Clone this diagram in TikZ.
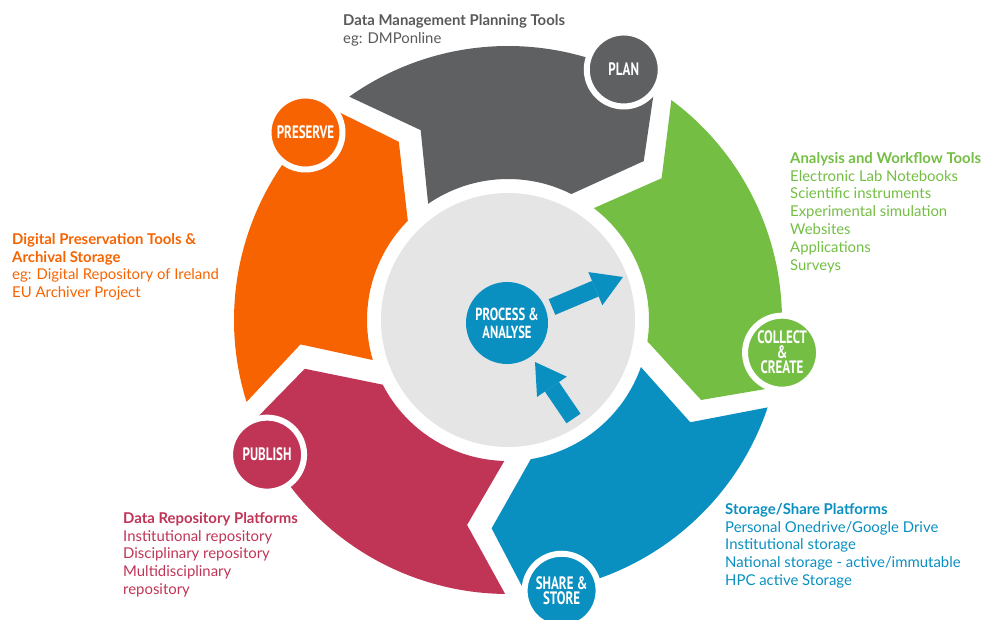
\documentclass[tikz,border=0pt]{standalone}
\usepackage{fontspec}
\setmainfont{Lato}
\newfontfamily\stagefont[FakeStretch=0.72]{PT Sans}
\usetikzlibrary{arrows.meta}
\definecolor{plangray}{HTML}{5F6062}
\definecolor{collectgreen}{HTML}{74BE44}
\definecolor{shareblue}{HTML}{0A8FC1}
\definecolor{publishred}{HTML}{C03456}
\definecolor{preserveorange}{HTML}{F66300}
\definecolor{coregray}{HTML}{E5E5E5}
\definecolor{plantext}{HTML}{58595B}

\begin{document}
\begin{tikzpicture}[x=1pt, y=1pt]
\tikzset{
   stage_circle/.style = {circle, draw = white, line width = 6pt, minimum size = 74pt, inner sep = 0pt,
                          text = white, align = center, font = \stagefont\bfseries\fontsize{18}{15}\selectfont},
   process_circle/.style = {stage_circle, draw = none, fill = shareblue, minimum size = 82pt,
                            font = \stagefont\bfseries\fontsize{17.5}{18}\selectfont},
   info_text/.style = {anchor = north west, align = left, inner sep = 0pt, font = \fontsize{14.9}{17.8}\selectfont},
   big_arrow/.style = {draw = shareblue, line width = 17pt, -{Triangle[length = 30pt, width = 36pt, line width = 0pt]}}
}
\useasboundingbox (0,0) rectangle (984,619);

\begin{scope}[shift = {(508,299)}]
  \node[circle, fill = coregray, minimum size = 254pt, inner sep = 0pt] (core) at (0,0) {};

  \foreach \b/\col in {121.5/plangray, 49.5/collectgreen, -22.5/shareblue, -94.5/publishred, -166.5/preserveorange} {
    \pgfmathsetmacro\e{\b-72}
    \fill[\col] (\b+3.9:274) arc[start angle = \b+3.9, end angle = \e+8.2, radius = 274pt]
          -- (\e:209) -- (\e+13.8:141) arc[start angle = \e+13.8, end angle = \b+3, radius = 141pt]
          -- (\b-6.8:209) -- cycle;
  }

  \node[stage_circle, fill = plangray] (plan) at (65.2:276) {PLAN};
  \node[stage_circle, fill = collectgreen] (collect) at (-6.8:276) {COLLECT\\\&\\CREATE};
  \node[stage_circle, fill = shareblue] (share) at (-78.8:276) {SHARE \&\\STORE};
  \node[stage_circle, fill = publishred] (publish) at (209.2:276) {PUBLISH};
  \node[stage_circle, fill = preserveorange] (preserve) at (137.2:276) {PRESERVE};

  \node[process_circle] (process) at (-1,-3) {PROCESS \&\\ANALYSE};

  \coordinate (out_start) at (44,13);
  \coordinate (out_end) at (115,43);
  \coordinate (in_start) at (65.5,-98.5);
  \coordinate (in_end) at (27,-42);
  \draw[big_arrow] (out_start) -- (out_end);
  \draw[big_arrow] (in_start) -- (in_end);
\end{scope}

\node[info_text, text = plantext] (plan_info) at (343,605)
     {\textbf{Data Management Planning Tools}\\eg: DMPonline};
\node[info_text, text = collectgreen] (collect_info) at (790,467)
     {\textbf{Analysis and Workflow Tools}\\Electronic Lab Notebooks\\Scientific instruments\\Experimental simulation\\Websites\\Applications\\Surveys};
\node[info_text, text = preserveorange] (preserve_info) at (12,386)
     {\textbf{Digital Preservation Tools \&}\\\textbf{Archival Storage}\\eg: Digital Repository of Ireland\\EU Archiver Project};
\node[info_text, text = publishred] (publish_info) at (123,107)
     {\textbf{Data Repository Platforms}\\Institutional repository\\Disciplinary repository\\Multidisciplinary\\repository};
\node[info_text, text = shareblue] (share_info) at (725,116)
     {\textbf{Storage/Share Platforms}\\Personal Onedrive/Google Drive\\Institutional storage\\National storage - active/immutable\\HPC active Storage};

\end{tikzpicture}
\end{document}
